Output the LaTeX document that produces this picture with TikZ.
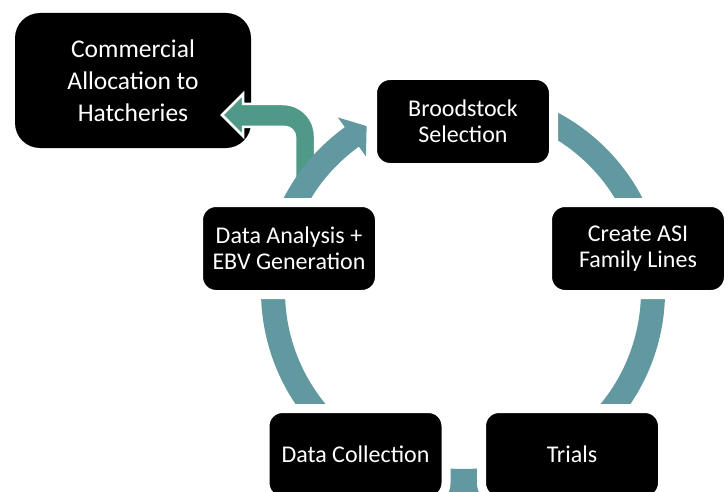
\documentclass[tikz,border=0pt]{standalone}
\usepackage{fontspec}
\setmainfont{Carlito}
\usetikzlibrary{calc}
\definecolor{cyclecol}{HTML}{6299A0}
\definecolor{bentcol}{HTML}{509887}
\begin{document}
\begin{tikzpicture}[x=1pt,y=1pt,
  stagebox/.style={fill=black, draw=white, line width=9pt, rounded corners=17.5pt,
    minimum width=181pt, minimum height=92pt, inner sep=0pt, text=white,
    align=center, font=\fontsize{24}{26}\selectfont},
  outbox/.style={fill=black, rounded corners=25pt, minimum width=236pt,
    minimum height=135pt, inner sep=0pt, text=white, align=center,
    font=\fontsize{25.5}{32}\selectfont},
  bentarrow/.style={fill=bentcol, draw=white, line width=2.5pt, line join=miter},
  cyclearrow/.style={fill=cyclecol}]
\clip (0,0) rectangle (728,491);
\coordinate (O) at (463,200);

% output box
\node[outbox] (com) at (133,410.5) {Commercial\\Allocation to\\Hatcheries};

% bent arrow leaving the cycle towards the output box
\coordinate (tip) at (222,376);
\filldraw[bentarrow] (295,296) -- (295,354) arc[start angle=0, end angle=90, radius=10]
  -- (243,364) -- (243,355) -- (tip) -- (243,397) -- (243,387) -- (283,387)
  arc[start angle=90, end angle=0, radius=32] -- (315,296) -- cycle;

% cycle band with its arrowhead
\fill[cyclearrow] ($(O)+(100:202pt)$) arc[start angle=100, end angle=-234.2, radius=202pt]
  -- ($(O)+(-234.2:214pt)$) -- ($(O)+(-239.7:191pt)$) -- ($(O)+(-234.2:166pt)$)
  -- ($(O)+(-234.2:178pt)$) arc[start angle=-234.2, end angle=100, radius=178pt] -- cycle;

% stages of the cycle
\node[stagebox] (brood) at (463,369.5) {Broodstock\\Selection};
\node[stagebox] (asi) at (638,242.5) {Create ASI\\Family Lines};
\node[stagebox] (trials) at (572,36.5) {Trials};
\node[stagebox] (collect) at (355.5,36.5) {Data Collection};
\node[stagebox] (analysis) at (289,242.5) {Data Analysis +\\EBV Generation};
\end{tikzpicture}
\end{document}
